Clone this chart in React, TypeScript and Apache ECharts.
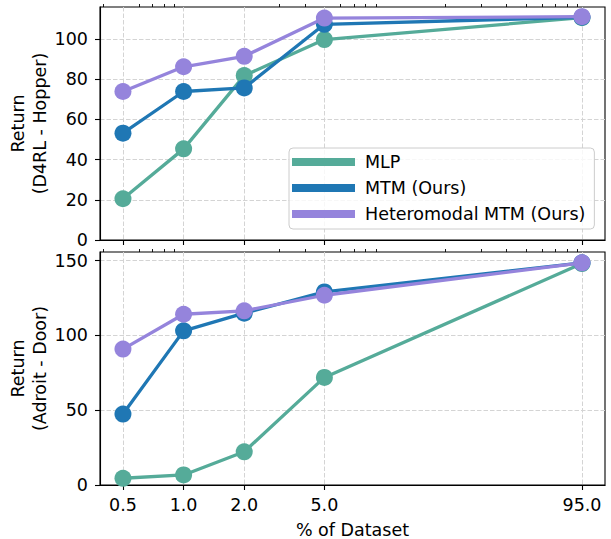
import React, { useEffect, useRef } from "react";
import * as echarts from "echarts";

// ---- data ----
const datasetPct = [0.5, 1.0, 2.0, 5.0, 95.0];
const minorTickPct = [0.4, 0.6, 0.7, 0.8, 0.9, 3, 4, 6, 7, 8, 9, 20, 30, 40, 50, 60, 70, 80, 90];
const seriesNames = ["MLP", "MTM (Ours)", "Heteromodal MTM (Ours)"];

const hopperMLP = [20.5, 45.3, 81.7, 99.6, 110.5];
const hopperMTM = [53.1, 73.8, 75.6, 107.2, 110.7];
const hopperHetero = [73.8, 86.1, 91.3, 110.3, 111.0];

const doorMLP = [4.5, 6.7, 22.2, 71.9, 148.0];
const doorMTM = [47.4, 103.0, 114.8, 129.0, 148.5];
const doorHetero = [90.8, 114.1, 116.4, 126.8, 148.5];

const hopperTicks = [0, 20, 40, 60, 80, 100];
const doorTicks = [0, 50, 100, 150];

const colors = ["#55ab99", "#1f77b4", "#9584dc"];

// log10 axis extent (matplotlib-like 5% margins)
const X_MIN = -0.415;
const X_MAX = 2.092;
const HOPPER_MAX = 115.8;
const DOOR_MAX = 155.7;

const FONT = "DejaVu Sans";
const FS = 17.5;

const lg = (v: number) => Math.log10(v);

export default function App() {
  const ref = useRef<HTMLDivElement>(null);

  useEffect(() => {
    if (!ref.current) return;
    const chart = echarts.init(ref.current, undefined, { renderer: "svg" });

    const gridLine = { show: true, lineStyle: { color: "#d4d4d4", width: 1, type: [4.5, 2] as any } };

    const majorX = (gridIndex: number, withLabels: boolean) => ({
      type: "value",
      gridIndex,
      min: X_MIN,
      max: X_MAX,
      axisLine: { show: true, onZero: false, lineStyle: { color: "#000", width: 1.1 } },
      axisTick: {
        show: true,
        length: 5,
        lineStyle: { color: "#000", width: 1.1 },
        customValues: datasetPct.map(lg),
      },
      axisLabel: {
        show: withLabels,
        customValues: datasetPct.map(lg),
        formatter: (v: number) => Math.pow(10, v).toFixed(1),
        fontFamily: FONT,
        fontSize: FS,
        color: "#000",
        margin: 11,
      },
      splitLine: gridLine,
      name: withLabels ? "% of Dataset" : "",
      nameLocation: "middle",
      nameGap: 36,
      nameMoveOverlap: false,
      nameTextStyle: { fontFamily: FONT, fontSize: FS, color: "#000" },
    });

    const minorX = (gridIndex: number) => ({
      type: "value",
      gridIndex,
      min: X_MIN,
      max: X_MAX,
      axisLine: { show: false, onZero: false },
      axisTick: {
        show: true,
        length: 3,
        lineStyle: { color: "#000", width: 0.9 },
        customValues: minorTickPct.map(lg),
      },
      axisLabel: { show: false },
      splitLine: { show: false },
    });

    const yAx = (gridIndex: number, max: number, ticks: number[], name: string) => ({
      type: "value",
      gridIndex,
      min: 0,
      max,
      axisLine: { show: true, onZero: false, lineStyle: { color: "#000", width: 1.1 } },
      axisTick: { show: true, length: 5, lineStyle: { color: "#000", width: 1.1 }, customValues: ticks },
      axisLabel: {
        customValues: ticks,
        fontFamily: FONT,
        fontSize: FS,
        color: "#000",
        margin: 12,
      },
      splitLine: gridLine,
      name,
      nameLocation: "middle",
      nameRotate: 90,
      nameGap: 49,
      nameMoveOverlap: false,
      nameTextStyle: { fontFamily: FONT, fontSize: FS, color: "#000", lineHeight: 22 },
    });

    const mk = (name: string, vals: number[], color: string, xi: number, yi: number, z: number) => ({
      type: "line",
      name,
      xAxisIndex: xi,
      yAxisIndex: yi,
      data: datasetPct.map((p, i) => [lg(p), vals[i]]),
      symbol: "circle",
      symbolSize: 17,
      showSymbol: true,
      lineStyle: { color, width: 3.3 },
      itemStyle: { color },
      emphasis: { disabled: true },
      z,
    });

    chart.setOption({
      animation: false,
      textStyle: { fontFamily: FONT },
      grid: [
        {
          left: 100, top: 7, width: 505, height: 233, show: true, borderColor: "#000", borderWidth: 1.1,
          containLabel: false, outerBoundsMode: "none",
        },
        {
          left: 100, top: 252, width: 505, height: 233, show: true, borderColor: "#000", borderWidth: 1.1,
          containLabel: false, outerBoundsMode: "none",
        },
      ],
      xAxis: [majorX(0, false), minorX(0), majorX(1, true), minorX(1)],
      yAxis: [
        yAx(0, HOPPER_MAX, hopperTicks, "Return\n(D4RL - Hopper)"),
        yAx(1, DOOR_MAX, doorTicks, "Return\n(Adroit - Door)"),
      ],
      legend: {
        orient: "vertical",
        left: 289,
        top: 148,
        data: seriesNames,
        icon: "rect",
        itemWidth: 63,
        itemHeight: 8,
        itemGap: 8,
        padding: [5, 9, 6, 3],
        backgroundColor: "rgba(255,255,255,0.8)",
        borderColor: "#cccccc",
        borderWidth: 1,
        borderRadius: 4,
        selectedMode: false,
        textStyle: { fontFamily: FONT, fontSize: FS, lineHeight: 18, color: "#000", padding: [0, 0, 0, 5] },
      },
      series: [
        mk(seriesNames[0], hopperMLP, colors[0], 0, 0, 2),
        mk(seriesNames[1], hopperMTM, colors[1], 0, 0, 3),
        mk(seriesNames[2], hopperHetero, colors[2], 0, 0, 4),
        mk(seriesNames[0], doorMLP, colors[0], 2, 1, 2),
        mk(seriesNames[1], doorMTM, colors[1], 2, 1, 3),
        mk(seriesNames[2], doorHetero, colors[2], 2, 1, 4),
      ],
    });

    return () => chart.dispose();
  }, []);

  return (
    <div
      ref={ref}
      style={{ position: "fixed", left: 0, top: 0, width: 611, height: 539, background: "#fff" }}
    />
  );
}
